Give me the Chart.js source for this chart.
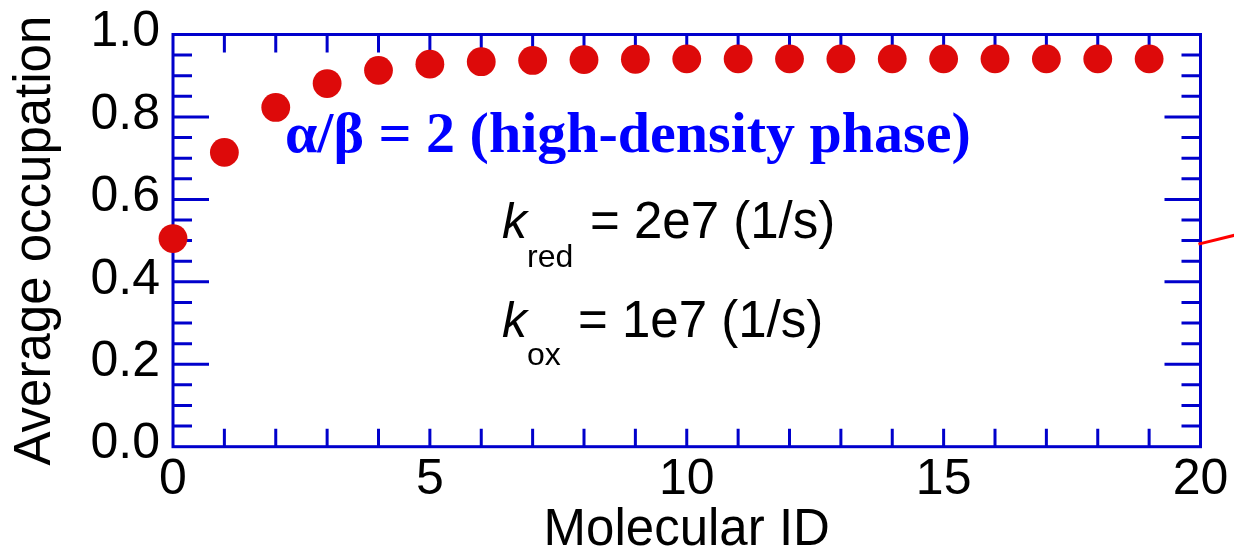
<!DOCTYPE html>
<html><head><meta charset="utf-8">
<script src="https://cdn.jsdelivr.net/npm/chart.js@4.4.1/dist/chart.umd.min.js"></script>
<style>html,body{margin:0;padding:0;background:#fff;overflow:hidden}#wrap{width:1234px;height:553px;position:relative}</style>
</head><body><div id="wrap"><canvas id="c"></canvas></div>
<script>
// ---- data ----
const molecularIds = [0,1,2,3,4,5,6,7,8,9,10,11,12,13,14,15,16,17,18,19];
const occupation = [0.505,0.714,0.823,0.881,0.913,0.928,0.934,0.937,0.939,0.940,0.941,0.941,0.941,0.941,0.941,0.941,0.941,0.941,0.941,0.941];
const xTickLabels = [0,5,10,15,20];
const yTickLabels = ['0.0','0.2','0.4','0.6','0.8','1.0'];
const strayLineX = [19.96, 21.0];
const strayLineY = [0.4915, 0.5234];
const xTitle = 'Molecular ID';
const yTitle = 'Average occupation';

const AXIS = '#0000cc';
const SANS = '"Liberation Sans", Arial, Helvetica, sans-serif';
const SERIF = '"Liberation Serif", "Times New Roman", serif';

const annotPlugin = {
  id: 'annot',
  beforeDatasetsDraw(chart) {
    const {ctx, chartArea: a, scales: {x, y}} = chart;
    ctx.save();
    ctx.strokeStyle = AXIS; ctx.lineWidth = 3; ctx.lineCap = 'butt';
    ctx.beginPath();
    for (let i = 1; i < 20; i++) {
      const px = x.getPixelForValue(i);
      ctx.moveTo(px, a.bottom); ctx.lineTo(px, a.bottom - 18);
      ctx.moveTo(px, a.top); ctx.lineTo(px, a.top + 18);
    }
    for (let k = 1; k < 20; k++) {
      const py = y.getPixelForValue(k * 0.05);
      const len = (k % 4 === 0) ? 36 : 19;
      ctx.moveTo(a.left, py); ctx.lineTo(a.left + len, py);
      ctx.moveTo(a.right, py); ctx.lineTo(a.right - len, py);
    }
    ctx.stroke();
    ctx.strokeRect(a.left, a.top, a.right - a.left, a.bottom - a.top);
    ctx.restore();
  },
  afterDraw(chart) {
    const ctx = chart.ctx;
    ctx.save();
    ctx.textBaseline = 'alphabetic';
    ctx.textAlign = 'left';
    ctx.fillStyle = '#0000ff';
    ctx.font = 'bold 58px ' + SERIF;
    ctx.fillText('\u03B1/\u03B2 = 2 (high-density phase)', 285, 152);
    ctx.fillStyle = '#000';
    ctx.font = 'italic 50px ' + SANS;
    ctx.fillText('k', 502, 238);
    ctx.fillText('k', 502, 337);
    ctx.font = '32px ' + SANS;
    ctx.fillText('red', 527, 267);
    ctx.fillText('ox', 527, 365);
    ctx.font = '51px ' + SANS;
    ctx.fillText('= 2e7 (1/s)', 590, 238);
    ctx.fillText('= 1e7 (1/s)', 578, 337);
    ctx.restore();
  }
};

function zeroPad(s) { s.paddingTop = 0; s.paddingBottom = 0; s.paddingLeft = 0; s.paddingRight = 0; }

new Chart(document.getElementById('c'), {
  type: 'scatter',
  data: {
    datasets: [
      {
        data: molecularIds.map((id, i) => ({x: id, y: occupation[i]})),
        pointRadius: 14.4,
        pointHoverRadius: 14.4,
        pointBackgroundColor: '#dd0a0a',
        pointBorderWidth: 0,
        borderWidth: 0,
        clip: false,
        order: 1
      },
      {
        type: 'line',
        data: strayLineX.map((v, i) => ({x: v, y: strayLineY[i]})),
        borderColor: '#ff0000',
        borderWidth: 3,
        pointRadius: 0,
        showLine: true,
        clip: false,
        order: 2
      }
    ]
  },
  options: {
    responsive: true,
    maintainAspectRatio: false,
    devicePixelRatio: 1,
    animation: false,
    events: [],
    layout: { padding: { left: 0, top: 34.5, right: 33.5, bottom: 0 } },
    plugins: { legend: { display: false }, tooltip: { enabled: false } },
    scales: {
      x: {
        type: 'linear', position: 'bottom', min: 0, max: 20,
        grid: { display: false, drawTicks: false }, border: { display: false },
        ticks: {
          stepSize: 5, autoSkip: false, maxRotation: 0, padding: 4, color: '#000',
          font: { size: 50, family: SANS },
          callback: v => xTickLabels.includes(v) ? String(v) : ''
        },
        title: { display: true, text: xTitle, color: '#000', font: { size: 51, family: SANS, lineHeight: 0.8 }, padding: { top: 0, bottom: 2 } },
        afterFit: s => { s.height = 106.3; zeroPad(s); }
      },
      y: {
        type: 'linear', position: 'left', min: 0, max: 1,
        grid: { display: false, drawTicks: false }, border: { display: false },
        ticks: {
          stepSize: 0.2, padding: 13, color: '#000', labelOffset: -2,
          font: { size: 50, family: SANS },
          callback: v => yTickLabels[Math.round(v / 0.2)]
        },
        title: { display: true, text: yTitle, color: '#000', font: { size: 51, family: SANS }, padding: { top: 5, bottom: 0 } },
        afterFit: s => { s.width = 173; zeroPad(s); }
      }
    }
  },
  plugins: [annotPlugin]
});
</script>
</body></html>
